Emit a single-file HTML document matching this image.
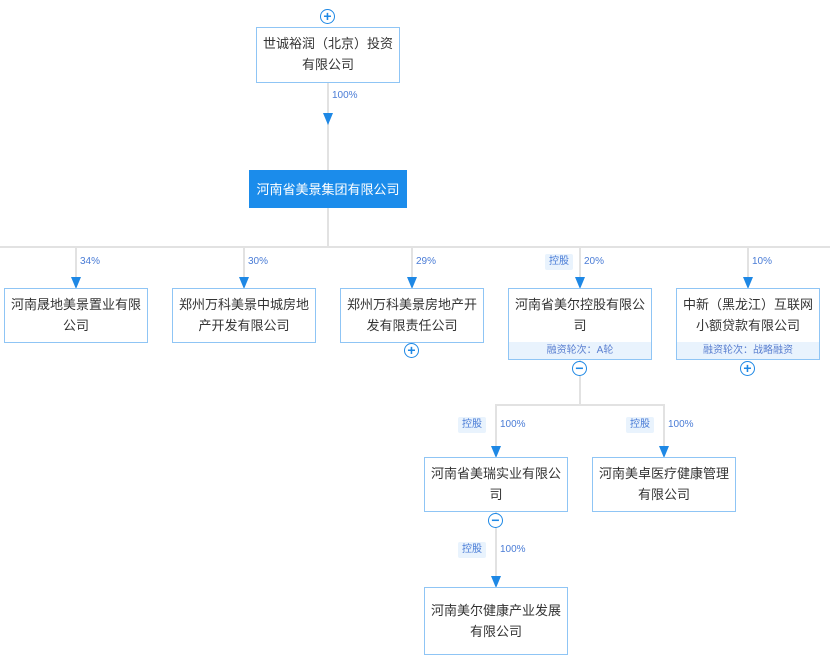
<!DOCTYPE html>
<html><head><meta charset="utf-8"><style>
body{margin:0;width:830px;height:665px;background:#fff;position:relative;overflow:hidden;font-family:"Liberation Sans","Noto Sans CJK SC",sans-serif}
.a{position:absolute}
.box{position:absolute;box-sizing:border-box;border:1px solid #8fc5f5;background:#fff;color:#333;font-size:13px;line-height:21px;text-align:center;padding-top:5px}
.ft{position:absolute;left:0;right:0;bottom:0;height:17px;background:#e9f3fd;color:#5a7fd0;font-size:10px;line-height:17px}
.vl{position:absolute;width:2px;background:#e2e2e2}
.hl{position:absolute;height:2px;background:#e2e2e2}
.ar{position:absolute;width:0;height:0;border-left:5px solid transparent;border-right:5px solid transparent;border-top:12px solid #1e88e5}
.pc{position:absolute;font-size:10px;color:#4a7cd6}
.tag{position:absolute;font-size:10px;color:#4a7cd6;background:#e9f3fd;padding:0 4px;line-height:16px;border-radius:2px}
.c{position:absolute;width:13px;height:13px;border:1.5px solid #1e88e5;border-radius:50%;background:#fff;color:#1e88e5;font-size:14px;line-height:13px;text-align:center;font-weight:bold}
</style></head><body>
<div class="vl" style="left:327px;top:82px;height:166px"></div>
<div class="hl" style="left:0;top:246px;width:830px"></div>
<div class="vl" style="left:75px;top:247px;height:30px"></div>
<div class="vl" style="left:243px;top:247px;height:30px"></div>
<div class="vl" style="left:411px;top:247px;height:30px"></div>
<div class="vl" style="left:579px;top:247px;height:30px"></div>
<div class="vl" style="left:747px;top:247px;height:30px"></div>
<div class="vl" style="left:579px;top:360px;height:45px"></div>
<div class="hl" style="left:495px;top:404px;width:170px"></div>
<div class="vl" style="left:495px;top:405px;height:42px"></div>
<div class="vl" style="left:663px;top:405px;height:42px"></div>
<div class="vl" style="left:495px;top:512px;height:66px"></div>

<div class="box" style="left:256px;top:27px;width:144px;height:56px">世诚裕润（北京）投资<br>有限公司</div>
<div class="c" style="left:320px;top:9px">+</div>
<div class="pc" style="left:332px;top:90px">100%</div>
<div class="ar" style="left:323px;top:113px"></div>
<div class="box" style="left:249px;top:170px;width:158px;height:38px;background:#1b8ceb;border-color:#1b8ceb;color:#fff;padding-top:8px">河南省美景集团有限公司</div>

<div class="pc" style="left:80px;top:256px">34%</div>
<div class="pc" style="left:248px;top:256px">30%</div>
<div class="pc" style="left:416px;top:256px">29%</div>
<div class="tag" style="left:545px;top:254px">控股</div>
<div class="pc" style="left:584px;top:256px">20%</div>
<div class="pc" style="left:752px;top:256px">10%</div>
<div class="ar" style="left:71px;top:277px"></div>
<div class="ar" style="left:239px;top:277px"></div>
<div class="ar" style="left:407px;top:277px"></div>
<div class="ar" style="left:575px;top:277px"></div>
<div class="ar" style="left:743px;top:277px"></div>

<div class="box" style="left:4px;top:288px;width:144px;height:55px">河南晟地美景置业有限<br>公司</div>
<div class="box" style="left:172px;top:288px;width:144px;height:55px">郑州万科美景中城房地<br>产开发有限公司</div>
<div class="box" style="left:340px;top:288px;width:144px;height:55px">郑州万科美景房地产开<br>发有限责任公司</div>
<div class="c" style="left:404px;top:343px">+</div>
<div class="box" style="left:508px;top:288px;width:144px;height:72px">河南省美尔控股有限公<br>司<div class="ft">融资轮次：A轮</div></div>
<div class="c" style="left:572px;top:361px">−</div>
<div class="box" style="left:676px;top:288px;width:144px;height:72px">中新（黑龙江）互联网<br>小额贷款有限公司<div class="ft">融资轮次：战略融资</div></div>
<div class="c" style="left:740px;top:361px">+</div>

<div class="tag" style="left:458px;top:417px">控股</div>
<div class="pc" style="left:500px;top:419px">100%</div>
<div class="tag" style="left:626px;top:417px">控股</div>
<div class="pc" style="left:668px;top:419px">100%</div>
<div class="ar" style="left:491px;top:446px"></div>
<div class="ar" style="left:659px;top:446px"></div>
<div class="box" style="left:424px;top:457px;width:144px;height:55px">河南省美瑞实业有限公<br>司</div>
<div class="box" style="left:592px;top:457px;width:144px;height:55px">河南美卓医疗健康管理<br>有限公司</div>
<div class="c" style="left:488px;top:513px">−</div>
<div class="tag" style="left:458px;top:542px">控股</div>
<div class="pc" style="left:500px;top:544px">100%</div>
<div class="ar" style="left:491px;top:576px"></div>
<div class="box" style="left:424px;top:587px;width:144px;height:68px;padding-top:12px">河南美尔健康产业发展<br>有限公司</div>
</body></html>
